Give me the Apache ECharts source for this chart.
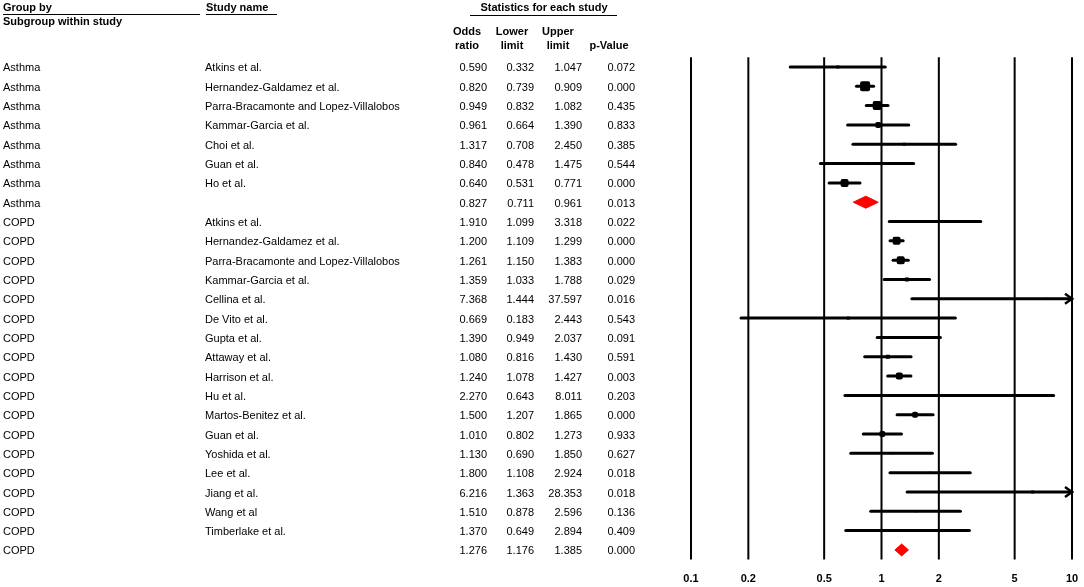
<!DOCTYPE html>
<html>
<head>
<meta charset="utf-8">
<script src="https://cdn.jsdelivr.net/npm/echarts@6/dist/echarts.min.js"></script>
<style>
html,body{margin:0;padding:0;background:#fff;}
#chart{width:1084px;height:587px;}
</style>
</head>
<body>
<div id="chart"></div>
<script>
const groups = ["Asthma","Asthma","Asthma","Asthma","Asthma","Asthma","Asthma","Asthma",
  "COPD","COPD","COPD","COPD","COPD","COPD","COPD","COPD","COPD","COPD","COPD","COPD","COPD","COPD","COPD","COPD","COPD","COPD"];
const studies = ["Atkins et al.","Hernandez-Galdamez et al.","Parra-Bracamonte and Lopez-Villalobos","Kammar-Garcia et al.","Choi et al.","Guan et al.","Ho et al.","",
  "Atkins et al.","Hernandez-Galdamez et al.","Parra-Bracamonte and Lopez-Villalobos","Kammar-Garcia et al.","Cellina et al.","De Vito et al.","Gupta et al.","Attaway et al.","Harrison et al.","Hu et al.","Martos-Benitez et al.","Guan et al.","Yoshida et al.","Lee et al.","Jiang et al.","Wang et al","Timberlake et al.",""];
const oddsRatio = [0.590,0.820,0.949,0.961,1.317,0.840,0.640,0.827,
  1.910,1.200,1.261,1.359,7.368,0.669,1.390,1.080,1.240,2.270,1.500,1.010,1.130,1.800,6.216,1.510,1.370,1.276];
const lowerLimit = [0.332,0.739,0.832,0.664,0.708,0.478,0.531,0.711,
  1.099,1.109,1.150,1.033,1.444,0.183,0.949,0.816,1.078,0.643,1.207,0.802,0.690,1.108,1.363,0.878,0.649,1.176];
const upperLimit = [1.047,0.909,1.082,1.390,2.450,1.475,0.771,0.961,
  3.318,1.299,1.383,1.788,37.597,2.443,2.037,1.430,1.427,8.011,1.865,1.273,1.850,2.924,28.353,2.596,2.894,1.385];
const pValue = [0.072,0.000,0.435,0.833,0.385,0.544,0.000,0.013,
  0.022,0.000,0.000,0.029,0.016,0.543,0.091,0.591,0.003,0.203,0.000,0.933,0.627,0.018,0.018,0.136,0.409,0.000];
// relative study weights
const weights = [3,10,9,6,3,3,8,0,
  2,8,8,4,2,3,2,4,7,2,6,6,2,2,3,2,2,0];
const xTicks = [0.1,0.2,0.5,1,2,5,10];
const xTickLabels = ["0.1","0.2","0.5","1","2","5","10"];

const FONT = '"Liberation Sans", Arial, sans-serif';
const rowIdx = groups.map((g,i)=>i);
const XMIN = 0.1, XMAX = 10;

const forestData = rowIdx.map(i => [oddsRatio[i], i, lowerLimit[i], upperLimit[i], weights[i], studies[i] === "" ? 1 : 0]);
const tableData = rowIdx.map(i => [1, i]);
const tickData = xTicks.map((v,i)=>[v, i]);

const chart = echarts.init(document.getElementById('chart'), null, {renderer:'canvas'});

const option = {
  animation: false,
  backgroundColor: '#fff',
  grid: {left: 691, right: 12, top: 57.3, height: 502.3, containLabel: false},
  xAxis: {type:'log', logBase:10, min:XMIN, max:XMAX, show:true,
    axisLine:{show:false}, axisTick:{show:false}, axisLabel:{show:false}, splitLine:{show:false}},
  yAxis: {type:'category', inverse:true, data: rowIdx.map(String), show:false},
  graphic: [
    {type:'text', left:3, top:2, style:{text:'Group by', font:'bold 11px '+FONT, fill:'#000'}},
    {type:'line', shape:{x1:3,y1:14.5,x2:200,y2:14.5}, style:{stroke:'#000', lineWidth:1}},
    {type:'text', left:3, top:16, style:{text:'Subgroup within study', font:'bold 11px '+FONT, fill:'#000'}},
    {type:'text', left:206, top:2, style:{text:'Study name', font:'bold 11px '+FONT, fill:'#000'}},
    {type:'line', shape:{x1:206,y1:14.5,x2:277,y2:14.5}, style:{stroke:'#000', lineWidth:1}},
    {type:'text', x:544, y:8, style:{text:'Statistics for each study', font:'bold 11px '+FONT, fill:'#000', align:'center', verticalAlign:'middle'}},
    {type:'line', shape:{x1:470,y1:15.5,x2:617,y2:15.5}, style:{stroke:'#000', lineWidth:1}},
    {type:'text', x:467, y:32, style:{text:'Odds', font:'bold 11px '+FONT, fill:'#000', align:'center', verticalAlign:'middle'}},
    {type:'text', x:467, y:46, style:{text:'ratio', font:'bold 11px '+FONT, fill:'#000', align:'center', verticalAlign:'middle'}},
    {type:'text', x:512, y:32, style:{text:'Lower', font:'bold 11px '+FONT, fill:'#000', align:'center', verticalAlign:'middle'}},
    {type:'text', x:512, y:46, style:{text:'limit', font:'bold 11px '+FONT, fill:'#000', align:'center', verticalAlign:'middle'}},
    {type:'text', x:558, y:32, style:{text:'Upper', font:'bold 11px '+FONT, fill:'#000', align:'center', verticalAlign:'middle'}},
    {type:'text', x:558, y:46, style:{text:'limit', font:'bold 11px '+FONT, fill:'#000', align:'center', verticalAlign:'middle'}},
    {type:'text', x:609, y:46, style:{text:'p-Value', font:'bold 11px '+FONT, fill:'#000', align:'center', verticalAlign:'middle'}}
  ],
  series: [
    {
      type:'custom', name:'grid', data: tickData, silent:true, clip:false,
      encode:{x:0, y:1},
      renderItem: function(params, api){
        const cs = params.coordSys;
        const x = api.coord([api.value(0), 0])[0];
        const idx = api.value(1);
        return {type:'group', children:[
          {type:'line', shape:{x1:x, y1:cs.y, x2:x, y2:cs.y+cs.height}, style:{stroke:'#000', lineWidth:2}},
          {type:'text', x:x, y:cs.y+cs.height+19, style:{text:xTickLabels[idx], font:'bold 11px '+FONT, fill:'#000', align:'center', verticalAlign:'middle'}}
        ]};
      }
    },
    {
      type:'custom', name:'table', data: tableData, silent:true, clip:false,
      encode:{x:0, y:1},
      renderItem: function(params, api){
        const i = api.value(1);
        const y = api.coord([1, i])[1] + 1.5;
        const f = '11px '+FONT;
        const t = (txt, x, align) => ({type:'text', x:x, y:y, style:{text:txt, font:f, fill:'#000', align:align, verticalAlign:'middle'}});
        return {type:'group', children:[
          t(groups[i], 3, 'left'),
          t(studies[i], 205, 'left'),
          t(oddsRatio[i].toFixed(3), 487, 'right'),
          t(lowerLimit[i].toFixed(3), 534, 'right'),
          t(upperLimit[i].toFixed(3), 582, 'right'),
          t(pValue[i].toFixed(3), 635, 'right')
        ]};
      }
    },
    {
      type:'custom', name:'forest', data: forestData, silent:true, clip:false,
      encode:{x:0, y:1},
      renderItem: function(params, api){
        const or = api.value(0), i = api.value(1), lo = api.value(2), hi = api.value(3), w = api.value(4), summ = api.value(5);
        const c = api.coord([or, i]);
        const y = c[1];
        const xLo = api.coord([Math.max(lo, XMIN), i])[0];
        const xHi = api.coord([Math.min(hi, XMAX), i])[0];
        if (summ) {
          const h = 6;
          return {type:'polygon', shape:{points:[[xLo,y],[c[0],y-h],[xHi,y],[c[0],y+h]]}, style:{fill:'#ff0000', stroke:'#ff0000', lineWidth:1}};
        }
        const children = [
          {type:'line', shape:{x1:xLo, y1:y, x2:xHi, y2:y}, style:{stroke:'#000', lineWidth:3, lineCap:'round'}}
        ];
        if (hi > XMAX) {
          children.push({type:'polyline', shape:{points:[[xHi-7,y-5],[xHi,y],[xHi-7,y+5]]}, style:{stroke:'#000', lineWidth:2.5, fill:null}});
        }
        const s = w;
        if (or >= XMIN && or <= XMAX) {
          children.push({type:'rect', shape:{x:c[0]-s/2, y:y-s/2, width:s, height:s, r: s > 5 ? 2 : 0}, style:{fill:'#000'}});
        }
        return {type:'group', children: children};
      }
    }
  ]
};
chart.setOption(option);
</script>
</body>
</html>
